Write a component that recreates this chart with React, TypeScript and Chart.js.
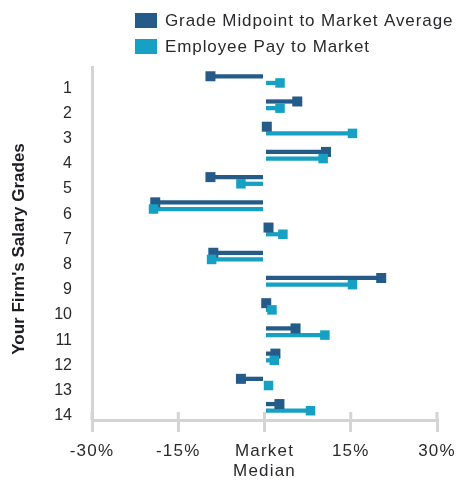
import React, { useEffect, useRef } from 'react';
import { Chart, registerables } from 'chart.js';

Chart.register(...registerables);

const grades = ['1', '2', '3', '4', '5', '6', '7', '8', '9', '10', '11', '12', '13', '14'];
const midpointToMarket = [-9.4, 5.7, 0.4, 10.7, -9.4, -19.0, 0.7, -8.9, 20.3, 0.3, 5.4, 1.9, -4.1, 2.6];
const payToMarket = [2.7, 2.7, 15.3, 10.2, -4.1, -19.3, 3.2, -9.2, 15.3, 1.3, 10.5, 1.7, 0.7, 8.0];
const seriesLabels = ['Grade Midpoint to Market Average', 'Employee Pay to Market'];
const seriesColors = ['#245b88', '#16a1c4'];
const xTickValues = [-30, -15, 0, 15, 30];
const xTickLabels: (string | string[])[] = ['-30%', '-15%', ['Market', 'Median'], '15%', '30%'];
const yAxisTitle = "Your Firm's Salary Grades";

const FONT = "'Liberation Sans', Arial, Helvetica, sans-serif";
const TEXT = '#2a2a2e';
const AXIS = '#d3d4d6';

const decorPlugin = {
  id: 'decor',
  afterDatasetsDraw(chart: any) {
    const ctx = chart.ctx;
    ctx.save();
    chart.data.datasets.forEach((ds: any, i: number) => {
      const meta = chart.getDatasetMeta(i);
      const s = i === 0 ? 10 : 9.5;
      ctx.fillStyle = ds.backgroundColor;
      meta.data.forEach((el: any) => {
        ctx.fillRect(el.x - s / 2, el.y - s / 2, s, s);
      });
    });
    ctx.restore();
  },
  afterDraw(chart: any) {
    const ctx = chart.ctx;
    const area = chart.chartArea;
    const xs = chart.scales.x;
    ctx.save();
    ctx.strokeStyle = AXIS;
    ctx.lineWidth = 3;
    xs.ticks.forEach((t: any) => {
      const px = xs.getPixelForValue(t.value);
      ctx.beginPath();
      ctx.moveTo(px, area.bottom - 8);
      ctx.lineTo(px, area.bottom);
      ctx.stroke();
    });
    // legend
    ctx.font = `17px ${FONT}`;
    (ctx as any).letterSpacing = '0.9px';
    ctx.textBaseline = 'middle';
    ctx.textAlign = 'left';
    chart.data.datasets.forEach((ds: any, i: number) => {
      const y = 13 + i * 26;
      ctx.fillStyle = ds.backgroundColor;
      ctx.fillRect(135, y, 22, 15);
      ctx.fillStyle = TEXT;
      ctx.fillText(ds.label, 165, y + 8);
    });
    // y axis title
    (ctx as any).letterSpacing = '0px';
    ctx.font = `bold 17px ${FONT}`;
    ctx.fillStyle = '#1e1e22';
    ctx.textAlign = 'center';
    ctx.translate(19, 249);
    ctx.rotate(-Math.PI / 2);
    ctx.fillText(yAxisTitle, 0, 0);
    ctx.restore();
  },
};

export default function App() {
  const ref = useRef<HTMLCanvasElement | null>(null);
  useEffect(() => {
    document.body.style.margin = '0';
    document.body.style.overflow = 'hidden';
    const canvas = ref.current!;
    const chart = new Chart(canvas, {
      type: 'bar',
      data: {
        labels: grades,
        datasets: [
          { label: seriesLabels[0], data: midpointToMarket, backgroundColor: seriesColors[0] },
          { label: seriesLabels[1], data: payToMarket, backgroundColor: seriesColors[1] },
        ],
      },
      options: {
        indexAxis: 'y',
        responsive: false,
        animation: false,
        devicePixelRatio: 1,
        categoryPercentage: 0.53,
        barPercentage: 0.64,
        layout: { padding: { top: 67, right: 21, left: 0, bottom: 0 } },
        plugins: {
          legend: { display: false },
          tooltip: { enabled: false },
        },
        scales: {
          x: {
            type: 'linear',
            min: -30,
            max: 30,
            afterBuildTicks: (s: any) => {
              s.ticks = xTickValues.map((v) => ({ value: v }));
            },
            afterFit: (s: any) => {
              s.height = 61;
              s.paddingRight = 0;
              s.paddingLeft = 0;
            },
            afterUpdate: (s: any) => {
              if (!s._lsPatched) {
                const orig = s.drawLabels.bind(s);
                s.drawLabels = (a: any) => {
                  s.ctx.save();
                  s.ctx.letterSpacing = '1.2px';
                  orig(a);
                  s.ctx.restore();
                };
                s._lsPatched = true;
              }
            },
            ticks: {
              color: TEXT,
              font: { family: FONT, size: 17 },
              padding: 9,
              maxRotation: 0,
              autoSkip: false,
              callback: (v: any) => xTickLabels[xTickValues.indexOf(Number(v))],
            },
            grid: {
              display: true,
              drawOnChartArea: false,
              drawTicks: true,
              tickLength: 12,
              color: AXIS,
              lineWidth: 3,
            },
            border: { display: true, color: AXIS, width: 3 },
          },
          y: {
            type: 'category',
            afterFit: (s: any) => {
              s.width = 92;
            },
            ticks: {
              color: TEXT,
              font: { family: FONT, size: 16 },
              padding: 20,
              labelOffset: 8.5,
              autoSkip: false,
            },
            grid: { display: false, drawTicks: false },
            border: { display: true, color: AXIS, width: 3 },
            title: { display: false, text: yAxisTitle },
          },
        },
      },
      plugins: [decorPlugin],
    });
    return () => chart.destroy();
  }, []);
  return <canvas ref={ref} width={458} height={481} style={{ display: 'block', width: 458, height: 481 }} />;
}
